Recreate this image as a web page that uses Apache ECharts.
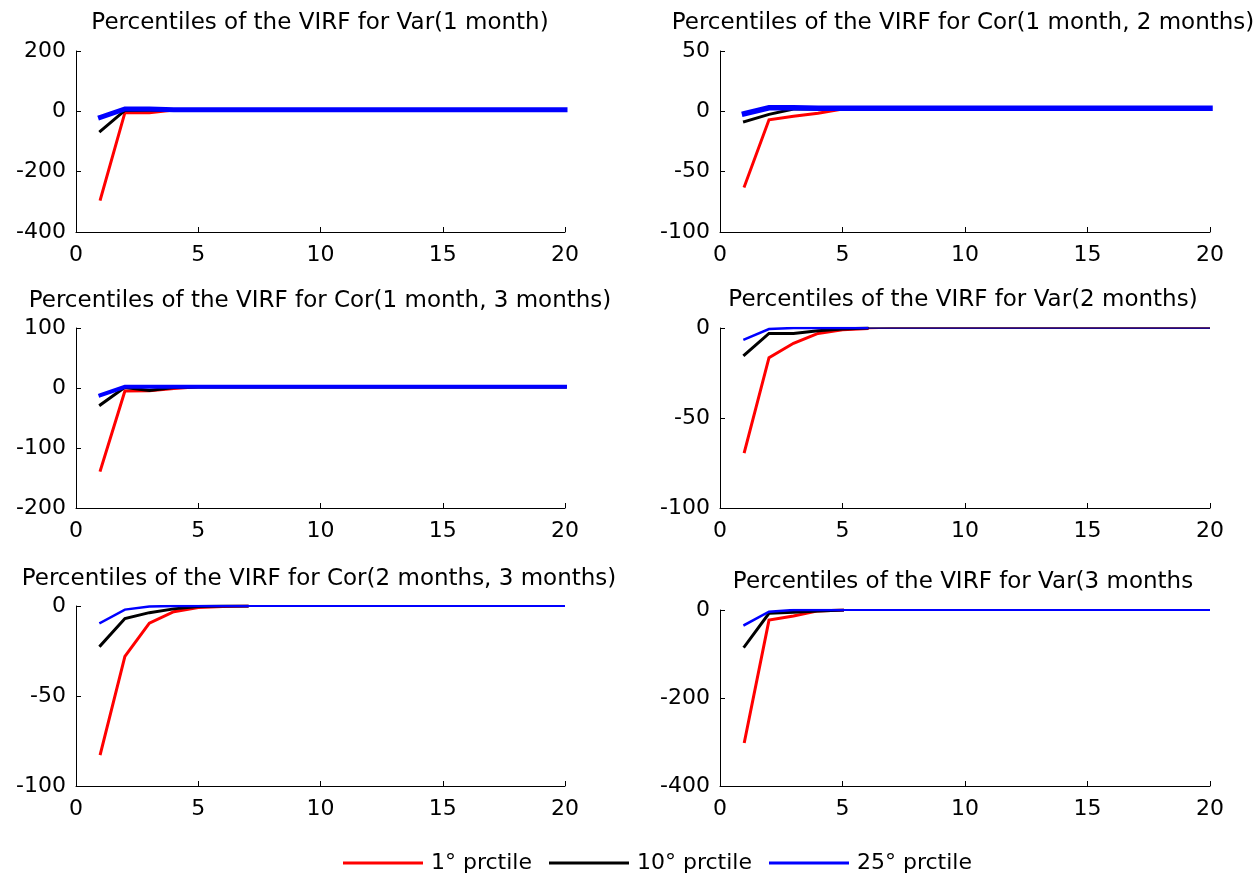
<!DOCTYPE html>
<html>
<head>
<meta charset="utf-8">
<title>Percentiles of the VIRF</title>
<script src="https://cdn.jsdelivr.net/npm/echarts@6/dist/echarts.min.js"></script>
<style>
    html, body { margin: 0; padding: 0; background: #fff; }
    #chart { width: 1260px; height: 880px; }
</style>
</head>
<body>
<div id="chart"></div>
<script>
// horizon (months after shock)
const horizon = [1, 2, 3, 4, 5, 6, 7, 8, 9, 10, 11, 12, 13, 14, 15, 16, 17, 18, 19, 20];

const titles = [
    'Percentiles of the VIRF for Var(1 month)',
    'Percentiles of the VIRF for Cor(1 month, 2 months)',
    'Percentiles of the VIRF for Cor(1 month, 3 months)',
    'Percentiles of the VIRF for Var(2 months)',
    'Percentiles of the VIRF for Cor(2 months, 3 months)',
    'Percentiles of the VIRF for Var(3 months'
];
const seriesNames = ['1° prctile', '10° prctile', '25° prctile'];

// y axis ranges per panel: [min, max, step]
const yRanges = [
    [-400, 200, 200],
    [-100, 50, 50],
    [-200, 100, 100],
    [-100, 0, 50],
    [-100, 0, 50],
    [-400, 0, 200]
];

// Var(1 month)
const var1Red   = [-291, -4.5, -4.5, 4, 4, 4, 4, 4, 4, 4, 4, 4, 4, 4, 4, 4, 4, 4, 4, 4];
const var1Black = [-66, 3, 4, 4, 4, 4, 4, 4, 4, 4, 4, 4, 4, 4, 4, 4, 4, 4, 4, 4];
const var1Blue  = [-20, 8, 8, 5, 5, 5, 5, 5, 5, 5, 5, 5, 5, 5, 5, 5, 5, 5, 5, 5];
// Cor(1 month, 2 months)
const cor12Red   = [-62, -7, -4, -1.5, 2, 2, 2, 2, 2, 2, 2, 2, 2, 2, 2, 2, 2, 2, 2, 2];
const cor12Black = [-8.5, -2.5, 2, 2, 2, 2, 2, 2, 2, 2, 2, 2, 2, 2, 2, 2, 2, 2, 2, 2];
const cor12Blue  = [-2, 3, 3, 2.5, 2.5, 2.5, 2.5, 2.5, 2.5, 2.5, 2.5, 2.5, 2.5, 2.5, 2.5, 2.5, 2.5, 2.5, 2.5, 2.5];
// Cor(1 month, 3 months)
const cor13Red   = [-137, -5, -4.5, -1, 2, 2, 2, 2, 2, 2, 2, 2, 2, 2, 2, 2, 2, 2, 2, 2];
const cor13Black = [-28, 1, -4, 1, 1.5, 1.5, 1.5, 1.5, 1.5, 1.5, 1.5, 1.5, 1.5, 1.5, 1.5, 1.5, 1.5, 1.5, 1.5, 1.5];
const cor13Blue  = [-12, 2, 2, 2, 2, 2, 2, 2, 2, 2, 2, 2, 2, 2, 2, 2, 2, 2, 2, 2];
// Var(2 months)
const var2Red   = [-68.7, -16.5, -8.5, -3, -1, -0.3, 0, 0, 0, 0, 0, 0, 0, 0, 0, 0, 0, 0, 0, 0];
const var2Black = [-15, -3, -3, -1.5, -0.5, 0, 0, 0, 0, 0, 0, 0, 0, 0, 0, 0, 0, 0, 0, 0];
const var2Blue  = [-6.3, -0.6, 0, 0, 0, 0, 0, 0, 0, 0, 0, 0, 0, 0, 0, 0, 0, 0, 0, 0];
// Cor(2 months, 3 months)
const cor23Red   = [-82, -28, -9.5, -3.2, -0.8, -0.3, 0, 0, 0, 0, 0, 0, 0, 0, 0, 0, 0, 0, 0, 0];
const cor23Black = [-22, -7, -3.7, -1.6, -0.3, 0, 0, 0, 0, 0, 0, 0, 0, 0, 0, 0, 0, 0, 0, 0];
const cor23Blue  = [-9.3, -2, -0.3, 0, 0, 0, 0, 0, 0, 0, 0, 0, 0, 0, 0, 0, 0, 0, 0, 0];
// Var(3 months)
const var3Red   = [-299, -23, -13.5, -2, 0, 0, 0, 0, 0, 0, 0, 0, 0, 0, 0, 0, 0, 0, 0, 0];
const var3Black = [-83, -7.5, -5, -2, 0, 0, 0, 0, 0, 0, 0, 0, 0, 0, 0, 0, 0, 0, 0, 0];
const var3Blue  = [-34, -4, 0, 0, 0, 0, 0, 0, 0, 0, 0, 0, 0, 0, 0, 0, 0, 0, 0, 0];

const panelData = [
    [var1Red, var1Black, var1Blue],
    [cor12Red, cor12Black, cor12Blue],
    [cor13Red, cor13Black, cor13Blue],
    [var2Red, var2Black, var2Blue],
    [cor23Red, cor23Black, cor23Blue],
    [var3Red, var3Black, var3Blue]
];

// layout / style (px)
const grids = [
    { left: 76,  top: 51,  width: 489, height: 181 },
    { left: 720, top: 51,  width: 490, height: 181 },
    { left: 76,  top: 328, width: 489, height: 180 },
    { left: 720, top: 328, width: 490, height: 180 },
    { left: 76,  top: 606, width: 489, height: 180 },
    { left: 720, top: 610, width: 490, height: 176 }
];
const titlePos = [[320, 22], [963, 22], [320, 300], [963, 299], [319, 578], [963, 581]];
const colors = ['#ff0000', '#000000', '#0000ff'];
// thick part up to index `cut`, thin after
const lineLook = [
    { cut: 19, thick: [3, 3, 5],   thin: [3, 3, 5] },
    { cut: 19, thick: [3, 3, 5.5], thin: [3, 3, 5.5] },
    { cut: 19, thick: [3, 3, 4],   thin: [3, 3, 4] },
    { cut: 5,  thick: [3, 3, 2.5], thin: [1.5, 1.5, 1.2] },
    { cut: 6,  thick: [3, 3, 2.5], thin: [2, 2, 1.8] },
    { cut: 4,  thick: [3, 3, 2.5], thin: [2, 2, 2] }
];

const FONT = '"DejaVu Sans", sans-serif';

function toPairs(vals, from, to) {
    return horizon.slice(from, to + 1).map((x, i) => [x, vals[from + i]]);
}

const option = {
    animation: false,
    backgroundColor: '#ffffff',
    title: titles.map((t, i) => ({
        text: t,
        left: titlePos[i][0],
        top: titlePos[i][1] - 10,
        textAlign: 'center',
        padding: 0,
        textStyle: { fontFamily: FONT, fontSize: 23, fontWeight: 'normal', color: '#000' }
    })),
    legend: {
        data: seriesNames,
        left: 338,
        top: 847,
        icon: 'rect',
        itemWidth: 80,
        itemHeight: 3,
        itemGap: 17,
        textStyle: { fontFamily: FONT, fontSize: 22, color: '#000', padding: [0, 0, 0, 3] }
    },
    grid: grids,
    xAxis: grids.map((g, i) => ({
        type: 'value',
        gridIndex: i,
        min: 0,
        max: 20,
        interval: 5,
        axisLine: { onZero: false, lineStyle: { color: '#000', width: 1 } },
        axisTick: { inside: true, length: 5, lineStyle: { color: '#000' } },
        axisLabel: { margin: 12, fontFamily: FONT, fontSize: 22, color: '#000' },
        splitLine: { show: false }
    })),
    yAxis: grids.map((g, i) => ({
        type: 'value',
        gridIndex: i,
        min: yRanges[i][0],
        max: yRanges[i][1],
        interval: yRanges[i][2],
        axisLine: { show: true, onZero: false, lineStyle: { color: '#000', width: 1 } },
        axisTick: { show: true, inside: true, length: 5, lineStyle: { color: '#000' } },
        axisLabel: { margin: 10, fontFamily: FONT, fontSize: 22, color: '#000' },
        splitLine: { show: false }
    })),
    series: []
};

panelData.forEach((trio, p) => {
    const look = lineLook[p];
    trio.forEach((vals, s) => {
        const base = {
            type: 'line',
            name: seriesNames[s],
            xAxisIndex: p,
            yAxisIndex: p,
            showSymbol: false,
            symbol: 'none',
            silent: true,
            itemStyle: { color: colors[s] },
            z: 2 + s
        };
        option.series.push(Object.assign({}, base, {
            data: toPairs(vals, 0, look.cut),
            lineStyle: { color: colors[s], width: look.thick[s], cap: 'square', join: 'miter' }
        }));
        if (look.cut < horizon.length - 1) {
            option.series.push(Object.assign({}, base, {
                data: toPairs(vals, look.cut, horizon.length - 1),
                lineStyle: { color: colors[s], width: look.thin[s] }
            }));
        }
    });
});

const chart = echarts.init(document.getElementById('chart'));
chart.setOption(option);
</script>
</body>
</html>
